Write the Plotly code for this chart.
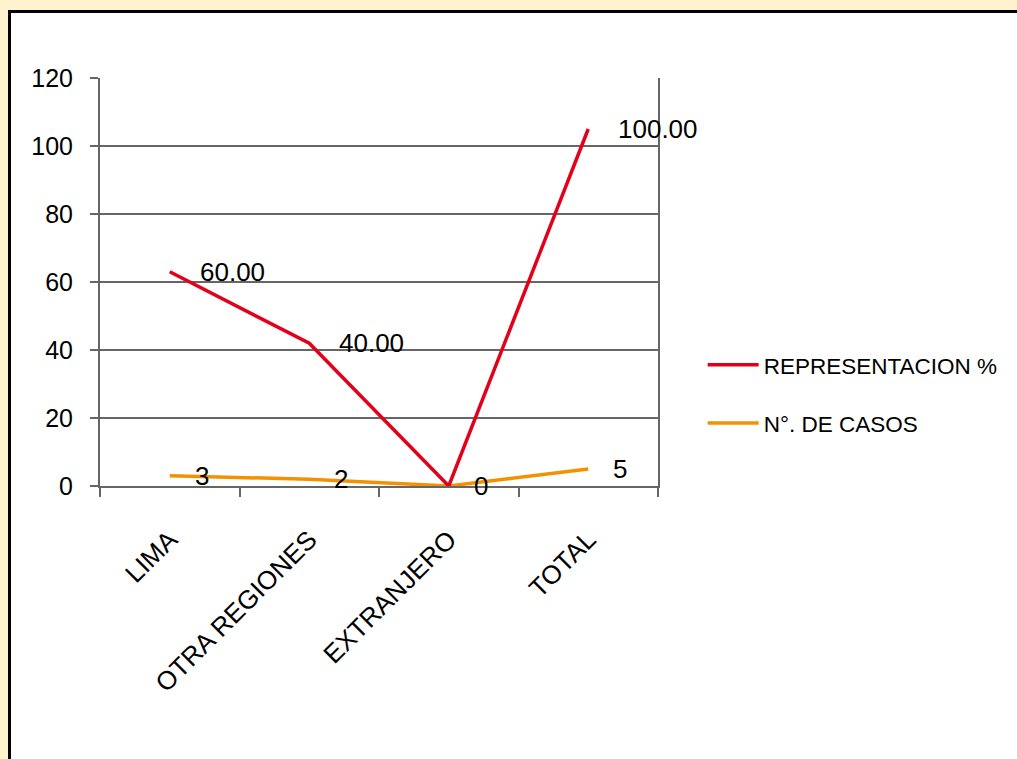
import numpy as np
import plotly.graph_objects as go

categories = ["LIMA", "OTRA REGIONES", "EXTRANJERO", "TOTAL"]
casos = [3, 2, 0, 5]
representacion = [60.00, 40.00, 0.00, 100.00]
y_ticks = [0, 20, 40, 60, 80, 100, 120]

RED = "#E2001A"
ORANGE = "#F39200"
GRID = "#666666"
FONT = "Liberation Sans, Arial, sans-serif"

fig = go.Figure()
fig.add_trace(go.Scatter(
    x=categories, y=casos, name="N°. DE CASOS", mode="lines",
    stackgroup="one", fill="none", legendgroup="b", legendrank=2,
    line=dict(color=ORANGE, width=3.5),
))
fig.add_trace(go.Scatter(
    x=categories, y=representacion, name="REPRESENTACION %", mode="lines",
    stackgroup="one", fill="none", legendgroup="a", legendrank=1,
    line=dict(color=RED, width=3.5),
))

cum_red = np.array(casos) + np.array(representacion)
annotations = []
for c, v, yv in zip(categories, representacion, cum_red):
    if v == 0:
        continue  # hidden in the reference (overlaps the "0" label)
    annotations.append(dict(x=c, y=float(yv), text=f"{v:.2f}", showarrow=False,
                            xanchor="left", yanchor="middle", xshift=28,
                            font=dict(size=26, color="black", family=FONT)))
for c, v in zip(categories, casos):
    annotations.append(dict(x=c, y=v, text=f"{v}", showarrow=False,
                            xanchor="left", yanchor="middle", xshift=23,
                            font=dict(size=26, color="black", family=FONT)))

fig.update_layout(
    width=1017, height=759,
    margin=dict(l=100, r=359, t=78, b=273),
    paper_bgcolor="#FFF2CC",
    plot_bgcolor="white",
    font=dict(family=FONT, size=25, color="black"),
    showlegend=True,
    legend=dict(x=1.08, y=0.225, xanchor="left", yanchor="middle",
                traceorder="grouped", tracegroupgap=26,
                font=dict(size=22.5, family=FONT), bgcolor="rgba(0,0,0,0)",
                itemwidth=51),
    annotations=annotations,
    shapes=[dict(type="rect", xref="paper", yref="paper",
                 x0=-0.1622, x1=1.80, y0=-0.80, y1=1.163,
                 line=dict(color="black", width=3), fillcolor="white",
                 layer="below")],
    xaxis=dict(type="category", range=[-0.5, 3.5], tickson="boundaries",
               ticks="outside", ticklen=9, tickwidth=2, tickcolor=GRID,
               showline=True, linecolor=GRID, linewidth=2,
               showgrid=False, tickangle=-45, ticklabelstandoff=26,
               tickfont=dict(size=26, family=FONT)),
    yaxis=dict(range=[0, 120], tickvals=y_ticks, ticks="outside",
               ticklen=8, tickwidth=2, tickcolor=GRID,
               showline=True, linecolor=GRID, linewidth=2, mirror=True,
               showgrid=True, gridcolor=GRID, gridwidth=2,
               zeroline=False, ticklabelstandoff=12,
               tickfont=dict(size=25, family=FONT)),
)

fig.write_html("out.html",
               config={"displayModeBar": False},
               post_script="document.body.style.margin='0';document.body.style.overflow='hidden';")
